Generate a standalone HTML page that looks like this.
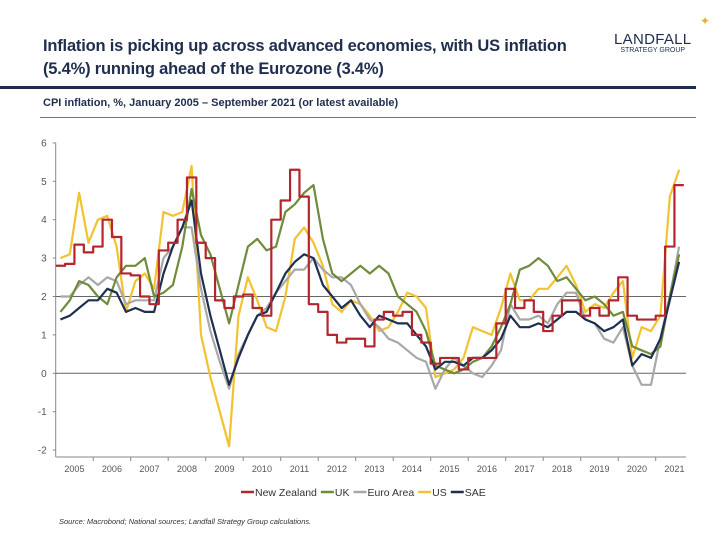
<!DOCTYPE html>
<html><head><meta charset="utf-8"><style>
body{margin:0;background:#fff;width:720px;height:540px;overflow:hidden;font-family:"Liberation Sans",sans-serif}
.t{position:absolute;left:43px;color:#1f2d4e;font-size:16.5px;line-height:23px;font-weight:bold;letter-spacing:-0.2px}
</style></head><body>
<div class="t" style="top:35px">Inflation is picking up across advanced economies, with US inflation<br>(5.4%) running ahead of the Eurozone (3.4%)</div>
<div style="position:absolute;left:614px;top:31px;text-align:center;color:#1f2d4e">
<div style="font-size:15px;letter-spacing:0.3px">LANDFALL</div><div style="font-size:7px;margin-top:-1px">STRATEGY GROUP</div></div>
<div style="position:absolute;left:700px;top:14px;color:#e0b43a;font-size:12px">✦</div>
<div style="position:absolute;left:0;top:86px;width:696px;height:3px;background:#1f2d4e"></div>
<div style="position:absolute;left:43px;top:97px;font-size:11px;color:#1f2d4e;font-weight:bold">CPI inflation, %, January 2005 – September 2021 (or latest available)</div>
<div style="position:absolute;left:40px;top:117px;width:656px;height:1px;background:#777"></div>
<svg id="c" width="720" height="540" style="position:absolute;left:0;top:0"></svg>
<div style="position:absolute;left:59px;top:517px;font-size:7.5px;font-style:italic;color:#333">Source: Macrobond;  National sources; Landfall Strategy Group calculations.</div>
<script>
const years=[2005,2006,2007,2008,2009,2010,2011,2012,2013,2014,2015,2016,2017,2018,2019,2020,2021];
const yTicks=[-2,-1,0,1,2,3,4,5,6];
const seriesNames=["New Zealand","UK","Euro Area","US","SAE"];
const nz=[2.8,2.85,3.35,3.15, 3.3,4.0,3.55,2.6, 2.55,2.0,1.8,3.2, 3.4,4.0,5.1,3.4, 3.0,1.9,1.7,2.0, 2.05,1.7,1.5,4.0, 4.5,5.3,4.6,1.8, 1.6,1.0,0.8,0.9, 0.9,0.7,1.4,1.6, 1.5,1.6,1.0,0.8, 0.25,0.4,0.4,0.1, 0.4,0.4,0.4,1.3, 2.2,1.7,1.9,1.6, 1.1,1.5,1.9,1.9, 1.5,1.7,1.5,1.9, 2.5,1.5,1.4,1.4, 1.5,3.3,4.9];
const uk=[1.6,1.9,2.4,2.3, 2.0,1.8,2.5,2.8, 2.8,3.0,2.0,2.1, 2.3,3.3,4.8,3.6, 3.1,2.2,1.3,2.3, 3.3,3.5,3.2,3.3, 4.2,4.4,4.7,4.9, 3.5,2.6,2.4,2.6, 2.8,2.6,2.8,2.6, 2.0,1.8,1.6,1.1, 0.2,0.1,0.0,0.1, 0.3,0.4,0.7,1.2, 1.8,2.7,2.8,3.0, 2.8,2.4,2.5,2.2, 1.9,2.0,1.8,1.5, 1.6,0.7,0.6,0.5, 0.7,2.0,3.1];
const euro=[2.0,2.0,2.3,2.5, 2.3,2.5,2.4,1.8, 1.9,1.9,1.9,3.0, 3.3,3.8,3.8,2.2, 1.1,0.3,-0.4,0.5, 1.0,1.5,1.7,2.1, 2.4,2.7,2.7,3.0, 2.7,2.5,2.5,2.3, 1.8,1.4,1.2,0.9, 0.8,0.6,0.4,0.3, -0.4,0.1,0.4,0.2, 0.0,-0.1,0.2,0.6, 1.8,1.4,1.4,1.5, 1.3,1.8,2.1,2.1, 1.4,1.3,0.9,0.8, 1.2,0.2,-0.3,-0.3, 0.9,2.0,3.3];
const us=[3.0,3.1,4.7,3.4, 4.0,4.1,3.3,1.6, 2.4,2.6,2.2,4.2, 4.1,4.2,5.4,1.0, -0.1,-1.0,-1.9,1.5, 2.5,1.9,1.2,1.1, 2.0,3.5,3.8,3.4, 2.8,1.8,1.6,1.9, 1.8,1.5,1.1,1.2, 1.6,2.1,2.0,1.7, -0.1,0.0,0.1,0.4, 1.2,1.1,1.0,1.7, 2.6,1.9,1.9,2.2, 2.2,2.5,2.8,2.3, 1.6,1.8,1.7,2.1, 2.4,0.4,1.2,1.1, 1.5,4.6,5.3];
const sae=[1.4,1.5,1.7,1.9, 1.9,2.2,2.1,1.6, 1.7,1.6,1.6,2.6, 3.3,3.8,4.5,2.6, 1.5,0.6,-0.3,0.4, 1.0,1.5,1.6,2.1, 2.6,2.9,3.1,3.0, 2.3,2.0,1.7,1.9, 1.5,1.2,1.5,1.4, 1.3,1.3,1.0,0.7, 0.1,0.3,0.3,0.2, 0.4,0.4,0.6,0.9, 1.5,1.2,1.2,1.3, 1.2,1.4,1.6,1.6, 1.4,1.3,1.1,1.2, 1.4,0.2,0.5,0.4, 0.9,1.9,2.9];
const colors=["#b3262e","#6f8b3b","#a8a8a8","#f2c230","#1f2f4f"];
const svg=document.getElementById('c');const NS="http://www.w3.org/2000/svg";
const X0=55.7,YW=37.5,Y0=373.3,U=38.4;
const xq=i=>X0+(i+0.5)*YW/4, yv=v=>Y0-v*U;
function mk(t,a,p){const e=document.createElementNS(NS,t);for(const k in a)e.setAttribute(k,a[k]);(p||svg).appendChild(e);return e;}
mk('line',{x1:X0,y1:yv(6),x2:X0,y2:457,stroke:'#888','stroke-width':1});
mk('line',{x1:X0,y1:457,x2:686,y2:457,stroke:'#888','stroke-width':1});
yTicks.forEach(v=>{mk('line',{x1:X0-3,y1:yv(v),x2:X0,y2:yv(v),stroke:'#888'});
 const t=mk('text',{x:X0-9,y:yv(v)+3.5,'text-anchor':'end','font-size':10,fill:'#555'});t.textContent=v;
 
 });
[0,2].forEach(v=>mk('line',{x1:X0,y1:yv(v),x2:686,y2:yv(v),stroke:'#666','stroke-width':1}));
years.forEach((y,i)=>{const x=X0+i*YW;
 if(i>0)mk('line',{x1:x,y1:457,x2:x,y2:461,stroke:'#888'});
 const t=mk('text',{x:x+YW/2,y:472,'text-anchor':'middle','font-size':9,fill:'#555'});t.textContent=y;
 
 });
const data=[nz,uk,euro,us,sae];
[3,2,1,4,0].forEach(s=>{let d='';const arr=data[s];
 if(s===0){arr.forEach((v,i)=>{const x1=X0+i*YW/4,x2=x1+YW/4;d+=(i?'L':'M')+x1+','+yv(v)+'L'+x2+','+yv(v);});}
 else arr.forEach((v,i)=>{d+=(i?'L':'M')+xq(i).toFixed(1)+','+yv(v).toFixed(1);});
 const p=mk('path',{d:d,fill:'none',stroke:colors[s],'stroke-width':2.2,'stroke-linejoin':'round'});
 
 });
let lx=241;
seriesNames.forEach((n,i)=>{const g=mk('g',{});
 
 
 mk('line',{x1:lx,y1:492,x2:lx+13,y2:492,stroke:colors[i],'stroke-width':2.5},g);
 const t=mk('text',{x:lx+14,y:496,'font-size':10.5,fill:'#333'},g);t.textContent=n;
 lx+=14+t.getComputedTextLength()+4;});
</script>
</body></html>
